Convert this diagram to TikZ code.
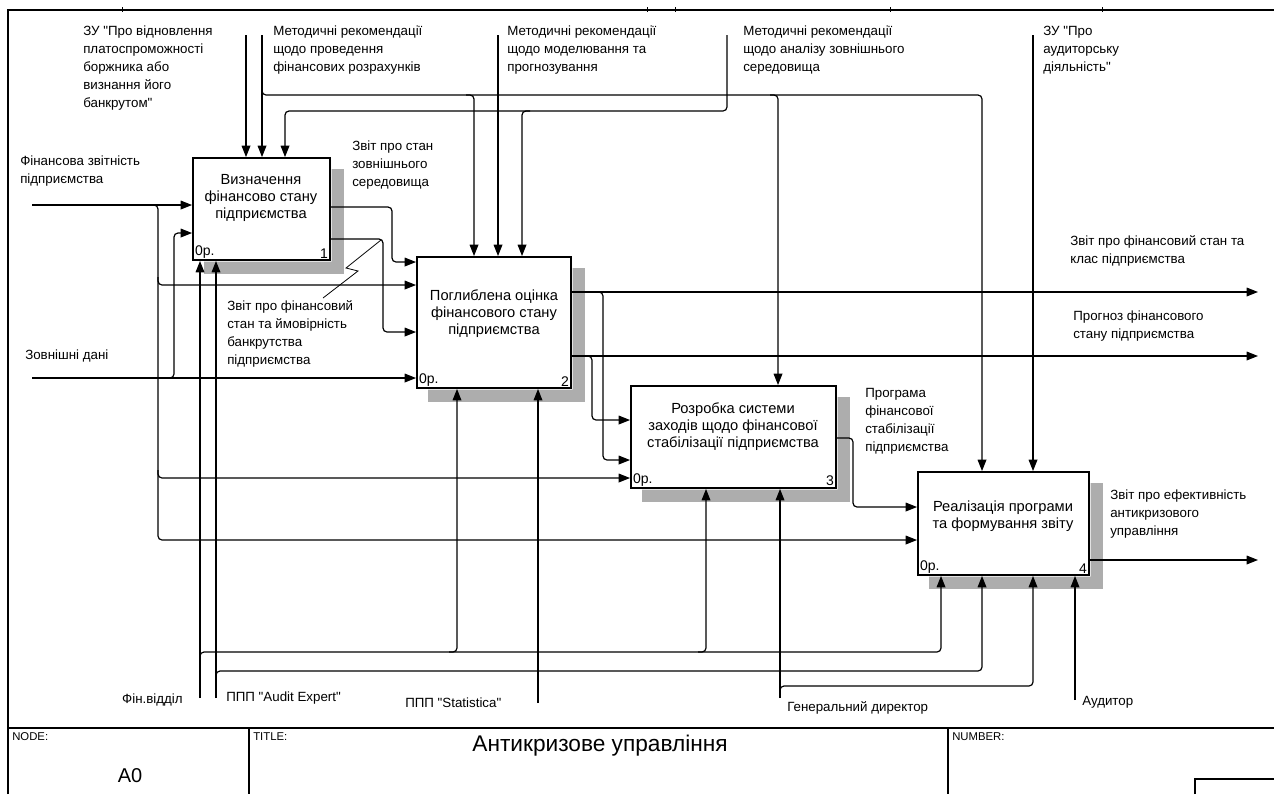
\documentclass[tikz,border=0pt]{standalone}
\usepackage{fontspec}
\setmainfont{Liberation Sans}[Ligatures=TeXOff]
\usetikzlibrary{arrows.meta,fit,calc}

\tikzset{
  funcbox/.style={draw, line width=1.4pt, inner sep=0pt, fill=white},
  boxtext/.style={font=\fontsize{11}{12.8}\selectfont, align=center},
  corner/.style={font=\fontsize{10.5}{12}\selectfont, inner sep=2pt},
  lbl/.style={font=\fontsize{10}{13.5}\selectfont, align=left, anchor=north west, inner sep=0pt},
  footsmall/.style={font=\fontsize{8.5}{10}\selectfont, anchor=north west, inner sep=0pt},
  wire/.style={line width=0.9pt, rounded corners=3pt},
  arr/.style={wire, -{Triangle[length=8.5pt,width=6.5pt]}},
  boxshadow/.style={fill=black!32},
}

\begin{document}
\begin{tikzpicture}[x=0.75pt,y=-0.75pt]
  \fill[white] (0,0) rectangle (1274,794);
  \useasboundingbox (0,0) rectangle (1274,794);

  % frame
  \draw[line width=0.8pt] (8,794) -- (8,10) -- (1274,10);
  \foreach \x in {122,647,675,890,1102}
    \draw[line width=0.6pt] (\x,7) -- (\x,12);

  % footer
  \draw[line width=0.8pt] (8,728) -- (1274,728);
  \draw[line width=0.8pt] (249,728) -- (249,794);
  \draw[line width=0.8pt] (948,728) -- (948,794);
  \draw[line width=0.8pt] (1195,794) -- (1195,779) -- (1274,779);
  \node[footsmall] (nodelbl) at (12,732) {NODE:};
  \node[footsmall] (titlelbl) at (253,732) {TITLE:};
  \node[footsmall] (numberlbl) at (952,732) {NUMBER:};
  \node[font=\fontsize{15}{18}\selectfont] (nodeno) at (130,776) {A0};
  \node[font=\fontsize{17}{20}\selectfont] (title) at (600,746) {Антикризове управління};

  % activity boxes
  \node[funcbox, fit={(193,158) (330,260)}] (box1) {};
  \node[funcbox, fit={(417,257) (571,388)}] (box2) {};
  \node[funcbox, fit={(631,386) (836,488)}] (box3) {};
  \node[funcbox, fit={(918,472) (1089,575)}] (box4) {};

  % shadows
  \foreach \b in {box1,box2,box3,box4}
    \fill[boxshadow] ($(\b.north east)+(0.7,12)$) -- ($(\b.north east)+(13,12)$)
      -- ($(\b.south east)+(13,13)$) -- ($(\b.south west)+(12,13)$)
      -- ($(\b.south west)+(12,0.7)$) -- ($(\b.south east)+(0.7,0.7)$) -- cycle;

  % box texts
  \node[boxtext] (txt1) at (261,198) {Визначення\\фінансово стану\\підприємства};
  \node[boxtext] (txt2) at (494,314) {Поглиблена оцінка\\фінансового стану\\підприємства};
  \node[boxtext] (txt3) at (733,427) {Розробка системи\\заходів щодо фінансової\\стабілізації підприємства};
  \node[boxtext] (txt4) at (1003,516) {Реалізація програми\\та формування звіту};
  \foreach \b/\n in {box1/1,box2/2,box3/3,box4/4}{
    \node[corner, anchor=south west] at (\b.south west) {0р.};
    \node[corner, anchor=south east] at (\b.south east) {\n};
  }

  % labels
  \node[lbl] (ctlzu) at (83,26) {ЗУ "Про відновлення\\платоспроможності\\боржника або\\визнання його\\банкрутом"};
  \node[lbl] (ctlcalc) at (273,26) {Методичні рекомендації\\щодо проведення\\фінансових розрахунків};
  \node[lbl] (ctlmod) at (507,26) {Методичні рекомендації\\щодо моделювання та\\прогнозування};
  \node[lbl] (ctlenv) at (743,26) {Методичні рекомендації\\щодо аналізу зовнішнього\\середовища};
  \node[lbl] (ctlaud) at (1043,26) {ЗУ "Про\\аудиторську\\діяльність"};
  \node[lbl] (infin) at (20,156) {Фінансова звітність\\підприємства};
  \node[lbl] (inext) at (25,350) {Зовнішні дані};
  \node[lbl] (outenv) at (352,141) {Звіт про стан\\зовнішнього\\середовища};
  \node[lbl] (outbank) at (227,300) {Звіт про фінансовий\\стан та ймовірність\\банкрутства\\підприємства};
  \node[lbl] (outclass) at (1070,235) {Звіт про фінансовий стан та\\клас підприємства};
  \node[lbl] (outfcst) at (1073,311) {Прогноз фінансового\\стану підприємства};
  \node[lbl] (outprog) at (865,388) {Програма\\фінансової\\стабілізації\\підприємства};
  \node[lbl] (outeff) at (1110,490) {Звіт про ефективність\\антикризового\\управління};
  \node[lbl, anchor=east] (mfin) at (183,700) {Фін.відділ};
  \node[lbl, anchor=west] (maud) at (226,698) {ППП "Audit Expert"};
  \node[lbl, anchor=west] (mstat) at (405,703) {ППП "Statistica"};
  \node[lbl, anchor=west] (mgen) at (787,708) {Генеральний директор};
  \node[lbl, anchor=west] (mauditor) at (1082,702) {Аудитор};

  % inputs
  \coordinate (fin) at (32,205);
  \coordinate (finj) at (158,205);
  \coordinate (fin2) at (158,285);
  \coordinate (fin3) at (158,478);
  \coordinate (fin4) at (158,540);
  \draw[arr] (fin) -- (fin -| box1.west);
  \draw[arr] ([xshift=-6pt]finj) -- (finj) -- (fin4) -- (fin4 -| box4.west);
  \draw[arr] ([yshift=6pt]fin2) -- (fin2) -- (fin2 -| box2.west);
  \draw[arr] ([yshift=6pt]fin3) -- (fin3) -- (fin3 -| box3.west);

  \coordinate (ext) at (32,378);
  \coordinate (extj) at (174,378);
  \coordinate (ext1) at (174,233);
  \draw[arr] (ext) -- (ext -| box2.west);
  \draw[arr] ([xshift=-6pt]extj) -- (extj) -- (ext1) -- (ext1 -| box1.west);

  % outputs
  \coordinate (r1) at (392,207);
  \coordinate (r1b) at (392,262);
  \draw[arr] (r1 -| box1.east) -- (r1) -- (r1b) -- (r1b -| box2.west);
  \coordinate (r2) at (383,239);
  \coordinate (r2b) at (383,332);
  \draw[arr] (r2 -| box1.east) -- (r2) -- (r2b) -- (r2b -| box2.west);
  \draw[line width=0.6pt] (323,298) -- (358,271) -- (346,268) -- (381,240);

  \coordinate (q1) at (1258,292);
  \coordinate (q1j) at (603,292);
  \coordinate (q1b) at (603,460);
  \draw[arr] (q1 -| box2.east) -- (q1);
  \draw[arr] ([xshift=-6pt]q1j) -- (q1j) -- (q1b) -- (q1b -| box3.west);
  \coordinate (q2) at (1258,356);
  \coordinate (q2j) at (592,356);
  \coordinate (q2b) at (592,420);
  \draw[arr] (q2 -| box2.east) -- (q2);
  \draw[arr] ([xshift=-6pt]q2j) -- (q2j) -- (q2b) -- (q2b -| box3.west);

  \coordinate (s1) at (853,438);
  \coordinate (s1b) at (853,507);
  \draw[arr] (s1 -| box3.east) -- (s1) -- (s1b) -- (s1b -| box4.west);
  \coordinate (t1) at (1258,560);
  \draw[arr] (t1 -| box4.east) -- (t1);

  % controls
  \coordinate (zu1) at (246,35);
  \draw[arr] (zu1) -- (zu1 |- box1.north);
  \coordinate (mr1) at (262,35);
  \coordinate (mr1j) at (262,95);
  \coordinate (mrbus) at (982,95);
  \draw[arr] (mr1) -- (mr1 |- box1.north);
  \draw[arr] ([yshift=6pt]mr1j) -- (mr1j) -- (mrbus) -- (mrbus |- box4.north);
  \foreach \c/\b in {474/box2,778/box3}{
    \coordinate (cc) at (\c,95);
    \draw[arr] ([xshift=-6pt]cc) -- (cc) -- (cc |- \b.north);
  }
  \coordinate (mr2) at (498,35);
  \draw[arr] (mr2) -- (mr2 |- box2.north);
  \coordinate (mr3) at (727,35);
  \coordinate (mr3j) at (727,111);
  \coordinate (mr3k) at (285,111);
  \coordinate (c3) at (522,111);
  \draw[arr] (mr3) -- (mr3j) -- (mr3k) -- (mr3k |- box1.north);
  \draw[arr] ([xshift=6pt]c3) -- (c3) -- (c3 |- box2.north);
  \coordinate (zu2) at (1033,35);
  \draw[arr] (zu2) -- (zu2 |- box4.north);

  % mechanisms
  \coordinate (fd) at (200,698);
  \coordinate (fdj) at (200,652);
  \coordinate (fd4) at (941,652);
  \draw[arr] (fd) -- (fd |- box1.south);
  \draw[arr] ([yshift=-6pt]fdj) -- (fdj) -- (fd4) -- (fd4 |- box4.south);
  \foreach \c/\b in {457/box2,706/box3}{
    \coordinate (mm) at (\c,652);
    \draw[arr] ([xshift=-6pt]mm) -- (mm) -- (mm |- \b.south);
  }
  \coordinate (ae) at (216,698);
  \coordinate (aej) at (216,671);
  \coordinate (ae4) at (982,671);
  \draw[arr] (ae) -- (ae |- box1.south);
  \draw[arr] ([yshift=-6pt]aej) -- (aej) -- (ae4) -- (ae4 |- box4.south);
  \coordinate (st) at (538,703);
  \draw[arr] (st) -- (st |- box2.south);
  \coordinate (gd) at (780,698);
  \coordinate (gdj) at (780,686);
  \coordinate (gd4) at (1033,686);
  \draw[arr] (gd) -- (gd |- box3.south);
  \draw[arr] ([yshift=-6pt]gdj) -- (gdj) -- (gd4) -- (gd4 |- box4.south);
  \coordinate (au) at (1075,700);
  \draw[arr] (au) -- (au |- box4.south);
\end{tikzpicture}
\end{document}
